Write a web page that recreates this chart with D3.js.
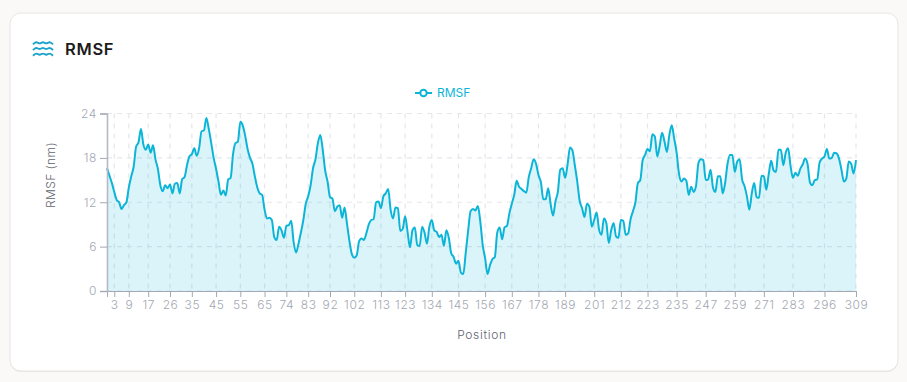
<!DOCTYPE html>
<html>
<head>
<meta charset="utf-8">
<script src="https://cdn.jsdelivr.net/npm/d3@7"></script>
<style>
html, body { margin: 0; padding: 0; background: #faf9f7; }
#chart { display: block; }
text { font-family: Inter, "Noto Sans", sans-serif; }
</style>
</head>
<body>
<svg id="chart" width="907" height="382"></svg>
<script>
// values, one per position (0..309)
const rmsf = [
  16.6,15.6,14.6,13.4,12.3,12.0,11.1,11.6,12.0,14.0,
  15.5,16.8,19.5,20.1,21.9,19.8,19.1,19.8,18.7,19.7,
  17.8,16.5,14.3,13.5,14.3,13.9,14.4,13.2,14.5,14.6,
  13.2,15.1,15.4,17.0,18.2,18.5,19.3,18.3,19.3,21.6,
  21.7,23.4,21.9,20.0,18.0,16.5,14.8,13.0,13.6,12.9,
  15.1,15.3,18.5,20.0,20.2,22.9,22.4,21.0,19.2,18.0,
  17.2,15.5,14.0,13.2,13.0,11.0,9.8,9.9,9.6,7.3,
  6.9,8.7,8.2,7.2,8.8,8.9,9.5,6.6,5.2,6.4,
  7.9,9.6,11.8,12.8,14.3,16.6,17.8,20.0,21.1,19.1,
  16.3,14.8,12.7,12.5,10.8,11.4,11.6,9.9,11.3,9.1,
  6.8,5.0,4.5,4.8,6.7,7.1,6.9,7.8,9.0,9.6,
  9.7,12.0,12.1,11.2,12.8,13.2,13.8,11.0,9.8,11.3,
  11.2,8.1,8.4,10.1,8.0,5.9,8.2,8.6,6.2,6.1,
  8.7,7.9,6.4,8.7,9.6,8.2,8.0,7.3,7.6,6.1,
  8.2,7.2,5.1,4.6,3.7,4.1,2.5,2.3,5.2,8.2,
  10.8,11.1,10.9,11.5,9.4,6.2,4.4,2.3,3.5,4.3,
  4.6,7.9,8.6,7.0,8.6,8.8,10.5,11.8,13.0,14.9,
  14.1,13.8,13.5,13.3,15.4,16.6,17.8,17.2,15.7,14.7,
  12.4,12.4,13.9,11.8,10.2,12.1,13.4,16.4,16.6,15.3,
  17.1,19.4,19.0,17.0,14.8,12.2,11.2,10.0,11.8,11.4,
  8.7,9.6,10.6,8.3,7.6,9.8,9.2,6.5,8.2,9.2,
  7.4,7.2,9.6,9.5,7.6,7.8,9.7,10.8,12.0,14.6,
  15.0,17.7,18.4,19.2,18.9,21.2,20.9,18.2,19.6,21.4,
  20.2,18.8,21.1,22.4,20.6,18.7,15.8,14.8,15.2,14.9,
  13.0,14.1,13.4,14.2,17.3,17.8,17.7,15.0,15.1,16.4,
  14.0,13.4,15.5,15.5,13.2,14.6,17.2,18.4,18.4,16.1,
  17.5,17.8,15.1,14.2,12.8,11.0,13.2,14.6,12.7,12.6,
  15.6,15.5,13.7,15.8,17.6,16.3,16.1,19.1,19.1,17.0,
  18.7,19.3,16.9,15.3,16.0,15.6,16.5,17.1,17.9,17.2,
  14.7,14.3,15.0,15.1,17.4,17.9,18.2,19.2,17.9,18.0,
  18.7,18.6,17.9,16.4,14.8,15.2,17.5,17.2,15.9,17.7
];
const xTicks = [3,9,17,26,35,45,55,65,74,83,92,102,113,123,134,145,156,167,178,189,201,212,223,235,247,259,271,283,296,309];
const yTicks = [0,6,12,18,24];

const LINE_COLOR = '#0cb5d8';
const TICK_COLOR = '#a3a8b2';
const MARGIN = { left: 107, right: 856, top: 113.5, bottom: 291 };

const svg = d3.select('#chart');

// card, the bottom edge is a bit heavier in the reference
svg.append('rect')
  .attr('x', 10).attr('y', 14)
  .attr('width', 888).attr('height', 358)
  .attr('rx', 11)
  .attr('fill', '#e9e7e3');
svg.append('rect')
  .attr('x', 10).attr('y', 13)
  .attr('width', 888).attr('height', 358)
  .attr('rx', 11)
  .attr('fill', '#fff')
  .attr('stroke', '#e8e6e1');

// title icon, three little waves
const waveLine = d3.line().curve(d3.curveBasis);
[0, 5.7, 11.4].forEach(dy => {
  const y = 42.8 + dy;
  const pts = d3.range(0, 3).flatMap(i => [[33 + i * 6.6, y + 1.6], [36.3 + i * 6.6, y - 1.6]]);
  pts.push([53, y + 1.6]);
  svg.append('path')
    .attr('d', waveLine(pts))
    .attr('fill', 'none')
    .attr('stroke', '#1ba3cc')
    .attr('stroke-width', 1.9);
});

svg.append('text')
  .text('RMSF')
  .attr('x', 65).attr('y', 54.5)
  .attr('font-size', 16.5)
  .attr('font-weight', 600)
  .attr('letter-spacing', 0.7)
  .attr('fill', '#1c1b1a');

const xScale = d3.scaleLinear().domain([0, 309]).range([MARGIN.left, MARGIN.right]);
const yScale = d3.scaleLinear().domain([0, 24]).range([MARGIN.bottom, MARGIN.top]);

// grid
const grid = svg.append('g')
  .attr('stroke', '#e5e7eb')
  .attr('stroke-dasharray', '5 5')
  .attr('stroke-width', 1.2);
grid.selectAll('.v')
  .data(xTicks)
  .join('line')
  .attr('x1', d => xScale(d)).attr('x2', d => xScale(d))
  .attr('y1', MARGIN.top).attr('y2', MARGIN.bottom);
grid.selectAll('.h')
  .data(yTicks)
  .join('line')
  .attr('x1', MARGIN.left).attr('x2', MARGIN.right)
  .attr('y1', d => yScale(d)).attr('y2', d => yScale(d));

// area + line
const area = d3.area()
  .x((d, i) => xScale(i))
  .y0(yScale(0))
  .y1(d => yScale(d))
  .curve(d3.curveMonotoneX);
const line = d3.line()
  .x((d, i) => xScale(i))
  .y(d => yScale(d))
  .curve(d3.curveMonotoneX);

svg.append('path')
  .datum(rmsf)
  .attr('d', area)
  .attr('fill', '#06b6d4')
  .attr('fill-opacity', 0.15);
svg.append('path')
  .datum(rmsf)
  .attr('d', line)
  .attr('fill', 'none')
  .attr('stroke', LINE_COLOR)
  .attr('stroke-width', 2);

// axes
const xAxis = svg.append('g')
  .attr('transform', `translate(0,${MARGIN.bottom})`)
  .call(d3.axisBottom(xScale).tickValues(xTicks).tickFormat(d => d).tickSize(6).tickPadding(3));
const yAxis = svg.append('g')
  .attr('transform', `translate(${MARGIN.left},0)`)
  .call(d3.axisLeft(yScale).tickValues(yTicks).tickSize(7).tickPadding(3));
[xAxis, yAxis].forEach(a => {
  a.selectAll('path, line').attr('stroke', TICK_COLOR).attr('stroke-width', 1);
  a.selectAll('text').attr('fill', TICK_COLOR).attr('font-size', 12)
    .attr('font-weight', 300)
    .attr('letter-spacing', 0.6)
    .attr('font-family', 'Inter, "Noto Sans", sans-serif');
});
yAxis.select('.domain').attr('stroke', '#b4b9c2').attr('stroke-width', 1.6);

// axis labels
svg.append('text')
  .text('Position')
  .attr('x', 482).attr('y', 339)
  .attr('text-anchor', 'middle')
  .attr('font-size', 12)
  .attr('font-weight', 300)
  .attr('letter-spacing', 0.7)
  .attr('fill', '#5f6570');
svg.append('text')
  .text('RMSF (nm)')
  .attr('transform', 'translate(55,175) rotate(-90)')
  .attr('text-anchor', 'middle')
  .attr('font-size', 12)
  .attr('font-weight', 300)
  .attr('letter-spacing', 0.4)
  .attr('fill', '#5f6570');

// legend
svg.append('line')
  .attr('x1', 415).attr('x2', 432)
  .attr('y1', 93).attr('y2', 93)
  .attr('stroke', LINE_COLOR)
  .attr('stroke-width', 2);
svg.append('circle')
  .attr('cx', 423.5).attr('cy', 93).attr('r', 3.2)
  .attr('fill', '#fff')
  .attr('stroke', LINE_COLOR)
  .attr('stroke-width', 2);
svg.append('text')
  .text('RMSF')
  .attr('x', 437).attr('y', 97)
  .attr('font-size', 12)
  .attr('fill', LINE_COLOR);
</script>
</body>
</html>
